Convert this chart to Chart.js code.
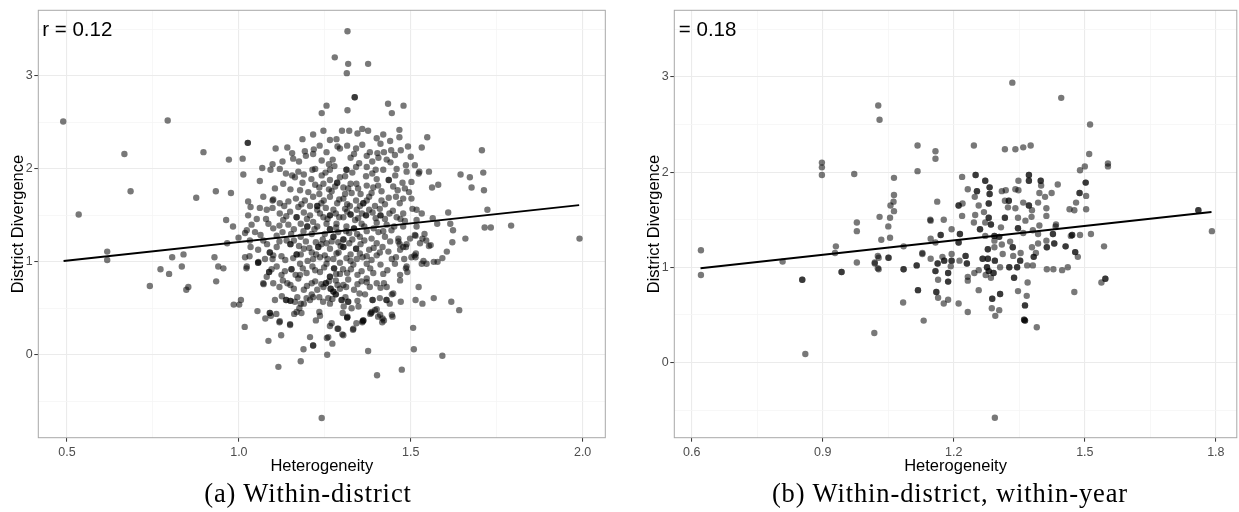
<!DOCTYPE html>
<html>
<head>
<meta charset="utf-8">
<script src="https://cdn.jsdelivr.net/npm/chart.js"></script>
<style>
  html, body { margin: 0; padding: 0; background: #fff; overflow: hidden; }
  #wrap { position: relative; width: 1239px; height: 512px; overflow: hidden; }
  canvas { position: absolute; top: 0; }
  #panelA { left: 0; }
  #panelB { left: 620px; }
  .caption {
    position: absolute; top: 480px; line-height: 1;
    font-family: "Liberation Serif", "Times New Roman", serif; font-size: 26.5px;
    letter-spacing: 0.9px; color: #000; white-space: nowrap; transform: translateX(-50%);
  }
</style>
</head>
<body>
<div id="wrap">
  <canvas id="panelA" width="620" height="512"></canvas>
  <canvas id="panelB" width="620" height="512"></canvas>
  <div class="caption" style="left:308px">(a) Within-district</div>
  <div class="caption" style="left:950px">(b) Within-district, within-year</div>
</div>

<script>
// (a) within-district: [heterogeneity, district divergence]
const withinDistrict = [
  [1.316,3.48],[1.279,3.20],[1.318,3.13],[1.376,3.13],[1.314,3.03],[1.337,2.77],[1.337,2.77],[1.316,2.63],[1.241,2.60],[1.255,2.68],[1.434,2.70],[1.445,2.60],[1.479,2.68],
  [0.489,2.51],[0.793,2.52],[0.667,2.16],[0.897,2.18],[1.026,2.28],[1.026,2.28],[0.971,2.10],[1.011,2.11],[0.685,1.76],[0.534,1.51],[0.876,1.69],[0.933,1.76],[0.977,1.74],[1.013,1.94],
  [0.617,1.11],[0.617,1.02],[0.741,0.74],[0.772,0.92],[0.797,0.87],[0.806,1.05],[0.834,0.95],[0.839,1.08],[0.847,0.70],[0.853,0.73],[0.929,1.05],[0.940,0.95],[0.955,0.93],[0.934,0.79],
  [0.963,1.45],[0.966,1.20],[0.983,1.38],[0.999,1.26],[0.985,0.54],[1.006,0.59],[1.001,0.54],[1.017,0.30],
  [1.991,1.25],[1.792,1.39],[1.733,1.37],[1.715,1.37],[1.723,1.56],[1.707,2.20],[1.711,1.96],[1.713,1.77],[1.645,1.94],[1.672,1.91],[1.677,1.80],[1.609,1.53],[1.615,1.41],[1.623,1.34],
  [1.621,1.21],[1.659,1.25],[1.580,1.83],[1.562,1.80],[1.553,1.97],[1.548,2.34],[1.532,2.23],[1.523,1.95],[1.564,1.47],[1.577,1.41],[1.532,1.52],[1.540,1.30],[1.534,1.25],[1.514,1.28],
  [1.553,1.17],[1.511,1.07],[1.514,1.05],[1.537,1.01],[1.546,0.98],[1.567,1.00],[1.578,1.00],[1.592,1.04],[1.605,1.11],[1.523,0.73],[1.567,0.61],[1.514,0.59],[1.534,0.55],[1.618,0.57],
  [1.641,0.48],[1.507,0.29],[1.509,0.06],[1.592,-0.01],[1.474,-0.16],[1.402,-0.22],[1.376,0.04],[1.241,-0.68],[1.180,-0.07],[1.115,-0.13],[1.188,0.06],[1.216,0.10],[1.216,0.10],[1.257,0.00],
  [1.086,0.15],[1.123,0.21],[1.149,0.32],[1.224,0.37],[1.256,0.18],[1.272,0.12],[1.301,0.22],[1.332,0.27],[1.359,0.35],[1.382,0.44],[1.411,0.43],[1.417,0.35],[1.445,0.43],[1.429,0.59],
  [1.445,0.65],[1.471,0.57],[1.054,0.47],[1.077,0.39],[1.093,0.42],[1.109,0.44],[1.118,0.35],[1.138,0.59],[1.161,0.44],[1.176,0.50],[1.189,0.55],[1.216,0.62],[1.270,0.34],[1.287,0.28],
  [1.316,0.41],[1.305,0.52],[1.348,0.52],[1.351,0.66],
  [1.185,2.32],[1.216,2.37],[1.246,2.41],[1.265,2.31],[1.284,2.32],[1.300,2.41],[1.321,2.41],[1.345,2.38],[1.359,2.43],[1.376,2.41],[1.401,2.33],[1.420,2.37],[1.467,2.42],[1.467,2.34],[1.492,2.24],
  [1.107,2.22],[1.141,2.23],[1.155,2.17],[1.158,2.11],[1.192,2.19],[1.195,2.14],[1.216,2.16],[1.218,2.21],[1.241,2.09],[1.255,2.18],[1.273,2.10],[1.287,2.24],[1.294,2.22],[1.315,2.25],
  [1.335,2.16],[1.341,2.22],[1.359,2.26],[1.372,2.14],[1.381,2.18],[1.403,2.17],[1.422,2.18],[1.443,2.20],[1.471,2.20],[1.430,2.10],[1.406,2.12],[1.454,2.15],
  [1.068,2.01],[1.092,1.99],[1.098,2.05],[1.119,2.00],[1.127,2.08],[1.173,1.97],[1.189,1.94],[1.214,1.99],[1.222,2.00],[1.241,1.93],[1.265,1.99],[1.278,2.03],[1.313,1.99],[1.313,1.99],
  [1.309,1.92],[1.341,2.02],[1.350,2.06],[1.372,2.02],[1.398,1.99],[1.420,1.99],[1.441,2.07],[1.459,2.00],[1.486,2.04],[1.488,1.97],[1.512,2.04],[1.525,1.97],
  [1.061,1.87],[1.163,1.91],[1.185,1.85],[1.211,1.89],[1.234,1.80],[1.246,1.84],[1.265,1.88],[1.286,1.85],[1.286,1.85],[1.280,1.81],[1.304,1.80],[1.325,1.84],[1.347,1.79],[1.370,1.92],
  [1.372,1.82],[1.391,1.80],[1.401,1.89],[1.436,1.88],[1.436,1.88],[1.449,1.81],[1.476,1.85],[1.502,1.86],[1.483,1.79],[1.178,1.77],[1.202,1.75],
  [1.071,1.70],[1.100,1.67],[1.119,1.63],[1.144,1.65],[1.166,1.68],[1.192,1.66],[1.216,1.70],[1.228,1.60],[1.228,1.60],[1.247,1.66],[1.265,1.70],[1.286,1.63],[1.304,1.68],[1.323,1.60],
  [1.341,1.66],[1.362,1.63],[1.362,1.63],[1.379,1.70],[1.396,1.60],[1.415,1.66],[1.436,1.69],[1.457,1.70],[1.478,1.68],[1.502,1.68],[1.027,1.65],[1.034,1.59],[1.061,1.58],
  [1.027,1.50],[1.052,1.46],[1.079,1.46],[1.098,1.58],[1.119,1.52],[1.129,1.45],[1.149,1.54],[1.168,1.48],[1.168,1.48],[1.189,1.53],[1.207,1.50],[1.228,1.56],[1.246,1.48],[1.265,1.50],
  [1.265,1.50],[1.282,1.52],[1.304,1.48],[1.325,1.51],[1.325,1.51],[1.347,1.47],[1.370,1.50],[1.370,1.50],[1.389,1.53],[1.412,1.50],[1.412,1.50],[1.438,1.52],[1.459,1.48],[1.478,1.52],
  [1.505,1.57],[1.517,1.45],[1.483,1.44],
  [1.018,1.31],[1.032,1.23],[1.047,1.32],[1.063,1.29],[1.086,1.41],[1.100,1.36],[1.110,1.28],[1.127,1.32],[1.139,1.23],[1.160,1.35],[1.180,1.27],[1.199,1.38],[1.199,1.38],[1.212,1.30],
  [1.228,1.38],[1.244,1.24],[1.265,1.35],[1.265,1.35],[1.275,1.27],[1.275,1.27],[1.289,1.32],[1.304,1.24],[1.304,1.24],[1.321,1.31],[1.335,1.36],[1.335,1.36],[1.352,1.27],[1.372,1.33],
  [1.386,1.25],[1.406,1.32],[1.425,1.27],[1.444,1.34],[1.464,1.25],[1.478,1.38],[1.512,1.29],
  [1.034,1.16],[1.056,1.13],[1.090,1.10],[1.090,1.10],[1.110,1.16],[1.124,1.06],[1.150,1.19],[1.150,1.19],[1.168,1.08],[1.168,1.08],[1.189,1.14],[1.212,1.10],[1.231,1.16],[1.231,1.16],
  [1.250,1.07],[1.265,1.14],[1.284,1.09],[1.304,1.16],[1.304,1.16],[1.325,1.08],[1.341,1.14],[1.341,1.14],[1.360,1.05],[1.379,1.13],[1.401,1.07],[1.418,1.16],[1.435,1.11],[1.457,1.05],
  [1.478,1.16],[1.488,1.19],[1.018,1.05],
  [1.022,0.93],[1.056,0.99],[1.056,0.99],[1.076,1.03],[1.088,0.89],[1.088,0.89],[1.110,0.95],[1.134,0.90],[1.153,0.92],[1.153,0.92],[1.178,0.98],[1.197,0.88],[1.214,0.95],[1.236,0.89],
  [1.255,0.98],[1.277,0.93],[1.277,0.93],[1.294,0.99],[1.315,0.88],[1.333,0.97],[1.357,0.90],[1.372,0.98],[1.391,0.88],[1.412,0.97],[1.432,0.91],[1.454,0.98],[1.469,0.86],[1.488,0.95],
  [1.071,0.77],[1.100,0.77],[1.118,0.73],[1.141,0.77],[1.160,0.71],[1.173,0.82],[1.189,0.70],[1.212,0.77],[1.228,0.70],[1.253,0.77],[1.253,0.77],[1.267,0.71],[1.267,0.71],[1.282,0.80],
  [1.304,0.75],[1.318,0.81],[1.335,0.70],[1.357,0.79],[1.381,0.73],[1.401,0.77],[1.422,0.77],[1.430,0.73],[1.449,0.66],[1.469,0.80],
  [1.105,0.59],[1.137,0.59],[1.150,0.58],[1.150,0.58],[1.180,0.55],[1.207,0.59],[1.212,0.65],[1.234,0.62],[1.260,0.61],[1.282,0.65],[1.282,0.65],[1.299,0.59],[1.299,0.59],[1.318,0.57],
  [1.318,0.57],[1.328,0.50],[1.367,0.65],[1.389,0.59],[1.389,0.59],[1.430,0.59],[1.439,0.55],[1.401,0.49],
  [1.090,0.45],[1.090,0.45],[1.119,0.36],[1.149,0.33],[1.168,0.46],[1.182,0.45],[1.234,0.46],[1.236,0.42],[1.265,0.31],[1.289,0.28],[1.315,0.40],[1.315,0.40],[1.302,0.45],[1.342,0.34],
  [1.362,0.37],[1.362,0.37],[1.386,0.46],[1.405,0.41],[1.422,0.37],[1.447,0.41],[1.207,0.19],[1.260,0.19],[1.304,0.21],
  [1.023,1.34],[1.031,1.06],[1.023,0.95],[1.057,1.00],[1.072,0.76],[1.098,1.66],[1.500,2.13],[1.490,0.89],[1.486,0.93],[1.481,1.03],[1.418,0.39],[1.396,0.48],[1.385,0.45],[1.360,0.36],
  [1.333,0.28],[1.545,1.23],[1.558,1.18],[1.515,1.09],[1.498,1.25],[1.486,1.16],[1.469,1.13],[1.464,1.22],
  [1.294,1.91],[1.270,1.76],[1.309,1.73],[1.234,1.73],[1.328,1.74],[1.354,1.73],[1.386,1.74],[1.415,1.76],[1.253,1.58],[1.275,1.56],[1.309,1.57],[1.343,1.56],[1.379,1.56],[1.410,1.57],
  [1.207,1.60],[1.173,1.59],[1.216,1.43],[1.255,1.41],[1.284,1.41],[1.313,1.38],[1.357,1.41],[1.401,1.42],[1.430,1.40],[1.144,1.40],[1.180,1.41],[1.195,1.22],[1.224,1.21],[1.255,1.20],
  [1.289,1.21],[1.321,1.20],[1.354,1.19],[1.401,1.20],[1.158,1.04],[1.216,1.03],[1.236,1.05],[1.275,1.03],[1.313,1.04],[1.343,1.03],[1.386,1.02],[1.178,0.86],[1.265,0.84],[1.265,0.84],
  [1.294,0.87],[1.372,0.82],[1.246,0.73],[1.275,0.68],[1.275,0.68],[1.294,0.71],[1.163,0.57],[1.265,0.55],[1.197,0.61],[1.081,0.84],[1.098,1.03],[1.071,1.23],[1.081,1.56],[1.037,1.40],
  [1.105,1.79],[1.129,1.84],[1.137,1.95],[1.517,1.56],[1.517,1.38],[1.527,1.20],[1.502,1.05],[1.532,0.98],
  [1.155,1.93],[1.252,1.96],[1.330,1.96],[1.388,1.95],[1.455,1.93],[1.150,1.78],[1.222,1.83],[1.262,1.78],[1.318,1.79],[1.342,1.84],[1.405,1.82],[1.462,1.77],[1.495,1.75],
  [1.132,1.60],[1.182,1.62],[1.240,1.63],[1.292,1.67],[1.315,1.62],[1.352,1.60],[1.372,1.66],[1.425,1.62],[1.468,1.63],
  [1.138,1.49],[1.198,1.46],[1.236,1.52],[1.258,1.46],[1.292,1.48],[1.315,1.54],[1.338,1.45],[1.358,1.52],[1.398,1.47],[1.425,1.46],[1.448,1.55],[1.470,1.46],
  [1.118,1.39],[1.152,1.30],[1.188,1.33],[1.220,1.35],[1.250,1.30],[1.283,1.37],[1.312,1.33],[1.344,1.30],[1.365,1.38],[1.392,1.36],[1.420,1.33],[1.452,1.38],
  [1.082,1.19],[1.118,1.22],[1.160,1.23],[1.175,1.17],[1.205,1.15],[1.240,1.19],[1.270,1.22],[1.296,1.17],[1.330,1.24],[1.365,1.23],[1.392,1.15],[1.440,1.22],[1.468,1.19],
  [1.100,1.07],[1.135,1.02],[1.180,1.08],[1.200,1.01],[1.225,1.08],[1.258,1.03],[1.290,1.10],[1.325,1.01],[1.352,1.09],[1.372,1.06],[1.410,1.10],[1.445,1.03],
  [1.095,0.92],[1.124,0.86],[1.165,0.86],[1.186,0.93],[1.222,0.91],[1.248,0.94],[1.283,0.87],[1.303,0.92],[1.326,0.92],[1.345,0.86],[1.382,0.93],[1.420,0.87],
  [1.128,0.80],[1.150,0.75],[1.198,0.74],[1.222,0.79],[1.240,0.76],[1.262,0.79],[1.287,0.75],[1.312,0.73],[1.345,0.76],[1.372,0.78],[1.412,0.72],
  [1.125,0.63],[1.170,0.62],[1.245,0.57],[1.272,0.60],[1.310,0.62],[1.345,0.58],[1.410,0.61],
  [1.175,2.08],[1.235,2.25],[1.262,2.05],[1.325,2.12],[1.388,2.08],[1.412,2.27],[1.440,2.30]
];

// (b) within-district, within-year
const withinYear = [
  [0.621,1.18],[0.621,0.92],[0.808,1.06],[0.853,0.87],[0.853,0.87],[0.860,0.09],[0.898,2.10],[0.898,2.05],[0.898,1.97],[0.930,1.22],[0.928,1.15],[0.943,0.95],[0.943,0.95],[0.972,1.98],
  [0.978,1.47],[0.978,1.38],[0.978,1.05],[1.019,1.05],[1.026,0.99],[1.026,1.12],[1.018,0.31],[1.027,2.70],[1.030,2.55],[1.030,1.53],[1.034,1.29],[1.050,1.10],[1.050,1.43],[1.054,1.52],
  [1.054,1.31],[1.055,1.65],[1.062,1.69],[1.063,1.76],[1.063,1.59],[1.063,1.94],[1.084,0.63],[1.085,0.98],[1.085,0.98],[1.085,1.22],[1.115,1.02],[1.115,1.02],[1.117,2.28],[1.117,2.01],
  [1.118,0.76],[1.118,0.76],[1.131,0.44],[1.128,1.15],[1.158,2.22],[1.158,2.14],[1.162,1.69],[1.146,1.50],[1.334,2.94],[1.446,2.78],[1.512,2.50],[1.510,2.19],[1.553,2.09],[1.553,2.06],
  [1.791,1.38],[1.760,1.60],[1.760,1.60],[1.547,0.88],[1.547,0.88],[1.538,0.84],[1.544,1.22],[1.294,-0.58],[1.390,0.37],[1.361,0.45],[1.361,0.45],
  [1.246,2.28],[1.317,2.24],[1.341,2.24],[1.359,2.26],[1.376,2.28],[1.500,2.06],[1.489,2.02],[1.219,1.95],[1.250,1.97],[1.250,1.97],[1.272,1.91],[1.272,1.91],[1.282,1.84],[1.282,1.84],
  [1.232,1.82],[1.253,1.80],[1.253,1.80],[1.282,1.77],[1.282,1.77],[1.280,1.67],[1.280,1.67],[1.248,1.74],[1.211,1.65],[1.211,1.65],[1.220,1.67],[1.269,1.58],[1.249,1.55],[1.257,1.65],
  [1.219,1.54],[1.310,1.80],[1.319,1.81],[1.348,1.91],[1.341,1.82],[1.348,1.81],[1.372,1.97],[1.372,1.97],[1.372,1.91],[1.372,1.91],[1.399,1.91],[1.399,1.91],[1.400,1.86],[1.396,1.78],
  [1.409,1.74],[1.424,1.78],[1.438,1.87],[1.393,1.68],[1.412,1.62],[1.412,1.54],[1.326,1.70],[1.326,1.70],[1.317,1.70],[1.324,1.63],[1.341,1.62],[1.359,1.68],[1.372,1.65],[1.372,1.65],
  [1.379,1.60],[1.378,1.53],[1.364,1.49],[1.347,1.52],[1.317,1.52],[1.317,1.52],[1.280,1.52],[1.280,1.52],[1.285,1.45],[1.285,1.45],[1.272,1.47],[1.260,1.40],[1.260,1.40],[1.246,1.47],
  [1.214,1.35],[1.214,1.35],[1.195,1.40],[1.177,1.50],[1.147,1.49],[1.170,1.34],[1.170,1.34],[1.158,1.26],[1.147,1.30],[1.211,1.26],[1.211,1.26],[1.272,1.33],[1.293,1.33],[1.293,1.33],
  [1.304,1.32],[1.304,1.32],[1.308,1.42],[1.329,1.27],[1.335,1.21],[1.335,1.21],[1.347,1.41],[1.347,1.41],[1.359,1.36],[1.381,1.39],[1.393,1.35],[1.396,1.44],[1.427,1.35],[1.427,1.35],
  [1.433,1.43],[1.468,1.33],[1.471,1.34],[1.471,1.34],[1.489,1.34],[1.514,1.35],[1.476,1.60],[1.465,1.61],[1.503,1.61],[1.480,1.68],[1.488,1.78],[1.488,1.78],[1.503,1.75],[1.502,1.89],
  [1.502,1.89],[1.393,1.25],[1.379,1.21],[1.413,1.21],[1.413,1.21],[1.430,1.25],[1.430,1.25],[1.456,1.22],[1.456,1.22],[1.478,1.16],[1.478,1.16],[1.484,1.11],[1.476,0.74],[1.461,1.00],
  [1.448,0.97],[1.413,0.98],[1.381,1.02],[1.368,1.02],[1.383,1.11],[1.383,1.11],[1.388,1.15],[1.353,1.15],[1.352,1.07],[1.352,1.07],[1.345,1.00],[1.345,1.00],[1.327,1.00],[1.327,1.00],
  [1.338,0.89],[1.338,0.89],[1.306,1.00],[1.312,1.14],[1.310,1.24],[1.293,1.28],[1.293,1.21],[1.294,1.07],[1.294,1.07],[1.278,1.19],[1.278,1.19],[1.266,1.09],[1.266,1.09],[1.278,1.09],
  [1.278,1.09],[1.276,1.00],[1.276,1.00],[1.280,0.96],[1.280,0.96],[1.291,0.94],[1.291,0.94],[1.285,0.89],[1.273,0.92],[1.247,0.94],[1.257,0.97],[1.232,0.90],[1.232,0.86],[1.257,0.76],
  [1.230,1.04],[1.230,1.04],[1.227,1.12],[1.227,1.12],[1.213,1.07],[1.195,1.14],[1.195,1.07],[1.195,1.07],[1.193,1.01],[1.178,1.07],[1.178,1.07],[1.163,1.04],[1.163,1.04],[1.174,1.11],
  [1.158,0.96],[1.158,0.96],[1.164,0.87],[1.187,0.94],[1.187,0.94],[1.187,0.85],[1.187,0.85],[1.160,0.74],[1.160,0.74],[1.164,0.68],[1.177,0.62],[1.187,0.66],[1.211,0.62],[1.232,0.53],
  [1.128,1.14],[1.147,1.09],[1.051,1.10],[1.028,1.10],[1.028,0.98],[1.019,1.04],[1.288,0.67],[1.288,0.67],[1.306,0.72],[1.306,0.72],[1.287,0.57],[1.304,0.55],[1.295,0.49],[1.347,0.75],
  [1.369,0.84],[1.367,0.70],[1.363,0.60],[1.363,0.60],[1.363,0.44],[1.363,0.44],[1.336,1.12],[1.412,1.28],[1.434,1.45],[1.428,0.98]
];

// linear fits
const fitA = [[0.49, 1.01], [1.99, 1.61]];
const fitB = [[0.62, 0.99], [1.79, 1.58]];

const rText = ['r = 0.12', 'r = 0.18'];
const rAt = [[0.53, 3.49], [0.622, 3.49]];

const xMajorA = [0.5, 1.0, 1.5, 2.0];
const xMajorB = [0.6, 0.9, 1.2, 1.5, 1.8];
const yMajor = [0, 1, 2, 3];

const SANS = '"Liberation Sans", Arial, Helvetica, sans-serif';

function isMajor(list, v) {
    return list.some(m => Math.abs(m - v) < 1e-6);
}

function gridFor(majors) {
    return {
        color: c => (c.tick && isMajor(majors, c.tick.value)) ? '#ebebeb' : '#f5f5f5',
        lineWidth: c => (c.tick && isMajor(majors, c.tick.value)) ? 1.1 : 0.8,
        tickLength: 4,
        tickWidth: 1,
        tickColor: c => (c.tick && isMajor(majors, c.tick.value)) ? '#333333' : 'rgba(0,0,0,0)'
    };
}

// panel border + r annotation
const panelDecor = {
    id: 'panelDecor',
    afterDatasetsDraw(chart, args, opts) {
        const {ctx, chartArea: a, scales} = chart;
        ctx.save();
        ctx.beginPath();
        ctx.rect(a.left, a.top, a.right - a.left, a.bottom - a.top);
        ctx.clip();
        ctx.font = '20.5px ' + SANS;
        ctx.fillStyle = '#000';
        ctx.textAlign = 'center';
        ctx.textBaseline = 'middle';
        ctx.fillText(opts.text, scales.x.getPixelForValue(opts.x), scales.y.getPixelForValue(opts.y));
        ctx.restore();

        ctx.save();
        ctx.strokeStyle = '#a8a8a8';
        ctx.lineWidth = 1;
        ctx.strokeRect(a.left, a.top, a.right - a.left, a.bottom - a.top);
        ctx.restore();
    }
};

function makePanel(id, pts, fit, xr, xStep, xMajors, yr, idx, pad) {
    return new Chart(document.getElementById(id), {
        type: 'scatter',
        data: {
            datasets: [
                {
                    type: 'line',
                    data: fit.map(p => ({x: p[0], y: p[1]})),
                    borderColor: '#000',
                    borderWidth: 2,
                    pointRadius: 0,
                    fill: false
                },
                {
                    data: pts.map(p => ({x: p[0], y: p[1]})),
                    backgroundColor: 'rgba(0,0,0,0.53)',
                    borderWidth: 0,
                    pointRadius: 3.2,
                    pointHoverRadius: 3.2
                }
            ]
        },
        options: {
            responsive: false,
            animation: false,
            devicePixelRatio: 1,
            layout: {padding: pad},
            plugins: {
                legend: {display: false},
                tooltip: {enabled: false},
                panelDecor: {text: rText[idx], x: rAt[idx][0], y: rAt[idx][1]}
            },
            scales: {
                x: {
                    type: 'linear',
                    min: xr[0],
                    max: xr[1],
                    grid: gridFor(xMajors),
                    border: {display: false},
                    ticks: {
                        stepSize: xStep,
                        includeBounds: false,
                        autoSkip: false,
                        maxRotation: 0,
                        padding: 3,
                        color: '#4d4d4d',
                        font: {family: SANS, size: 12.5},
                        callback: v => isMajor(xMajors, v) ? Number(v).toFixed(1) : ''
                    },
                    title: {
                        display: true,
                        text: 'Heterogeneity',
                        color: '#000',
                        font: {family: SANS, size: 16.5},
                        padding: {top: 0, bottom: 36}
                    },
                    afterFit: s => { s.height = 74.3; }
                },
                y: {
                    type: 'linear',
                    min: yr[0],
                    max: yr[1],
                    grid: gridFor(yMajor),
                    border: {display: false},
                    ticks: {
                        stepSize: 0.5,
                        includeBounds: false,
                        autoSkip: false,
                        padding: 1.5,
                        color: '#4d4d4d',
                        font: {family: SANS, size: 12.5},
                        callback: v => isMajor(yMajor, v) ? String(Math.round(v)) : ''
                    },
                    title: {
                        display: true,
                        text: 'District Divergence',
                        color: '#000',
                        font: {family: SANS, size: 16.5},
                        padding: {top: 9, bottom: 0}
                    },
                    afterFit: s => { s.width = 38.3; }
                }
            }
        },
        plugins: [panelDecor]
    });
}

makePanel('panelA', withinDistrict, fitA, [0.4165, 2.066], 0.25, xMajorA, [-0.892, 3.706], 0,
    {left: 0, right: 14.7, top: 10.3, bottom: 0});
makePanel('panelB', withinYear, fitB, [0.560, 1.848], 0.15, xMajorB, [-0.79, 3.70], 1,
    {left: 16, right: 0, top: 10.3, bottom: 0});
</script>
</body>
</html>
